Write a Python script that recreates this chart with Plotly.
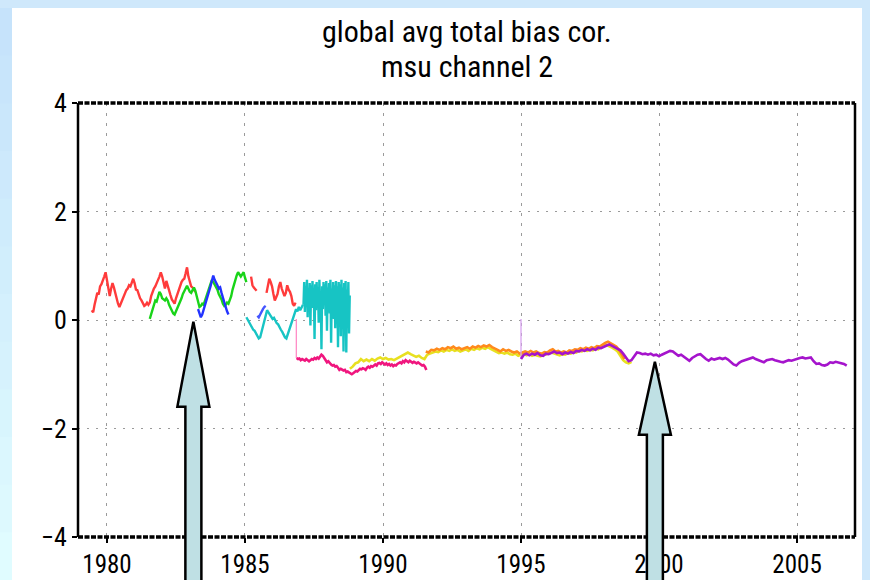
import plotly.graph_objects as go

# ---------------------------------------------------------------------------
# Global average total bias correction, MSU channel 2 (one series per satellite)
# Each series: start year, time step (years), values (K)
# ---------------------------------------------------------------------------
red_a_start, red_a_step = 1979.45, 0.05
red_a = [0.18, 0.14, 0.28, 0.40, 0.50, 0.47, 0.62, 0.66, 0.72, 0.80,
         0.88, 0.74, 0.58, 0.44, 0.58, 0.68, 0.60, 0.48, 0.40, 0.30,
         0.24, 0.30, 0.35, 0.42, 0.50, 0.55, 0.58, 0.64, 0.62, 0.70,
         0.76, 0.68, 0.56, 0.55, 0.46, 0.40, 0.36, 0.30, 0.26, 0.28,
         0.32, 0.28, 0.32, 0.44, 0.52, 0.58, 0.62, 0.70, 0.74, 0.80,
         0.88, 0.80, 0.66, 0.58, 0.72, 0.62, 0.52, 0.46, 0.38, 0.34,
         0.30, 0.40, 0.48, 0.58, 0.66, 0.70, 0.74, 0.76, 0.86, 0.97,
         0.80, 0.68, 0.62, 0.60, 0.56, 0.52]

green_start, green_step = 1981.55, 0.05
green = [0.02, 0.10, 0.22, 0.30, 0.36, 0.34, 0.42, 0.52, 0.48, 0.40,
         0.38, 0.36, 0.40, 0.36, 0.28, 0.22, 0.16, 0.12, 0.10, 0.16,
         0.20, 0.28, 0.34, 0.40, 0.48, 0.52, 0.58, 0.63, 0.56, 0.52,
         0.50, 0.56, 0.60, 0.54, 0.44, 0.36, 0.24, 0.26, 0.30, 0.28,
         0.36, 0.44, 0.52, 0.60, 0.66, 0.74, 0.70, 0.66, 0.62, 0.56,
         0.48, 0.44, 0.38, 0.30, 0.26, 0.28, 0.32, 0.30, 0.36, 0.44,
         0.56, 0.66, 0.74, 0.82, 0.88, 0.84, 0.80, 0.84, 0.88, 0.78,
         0.70]

blue_a_start, blue_a_step = 1983.30, 0.05
blue_a = [0.20, 0.12, 0.05, 0.10, 0.18, 0.26, 0.34, 0.42, 0.51, 0.62,
          0.72, 0.82, 0.74, 0.70, 0.64, 0.58, 0.60, 0.50, 0.40, 0.33,
          0.24, 0.16, 0.10]

blue_b_start, blue_b_step = 1985.45, 0.05
blue_b = [0.08, 0.05, 0.10, 0.16, 0.20, 0.24, 0.26]

red_b_start, red_b_step = 1985.22, 0.05
red_b = [0.80, 0.64, 0.60, 0.56, 0.54]

red_c_start, red_c_step = 1985.78, 0.05
red_c = [0.50, 0.66, 0.76, 0.70, 0.62, 0.48, 0.36, 0.42, 0.48, 0.62,
         0.70, 0.58, 0.52, 0.44, 0.50, 0.64, 0.56, 0.52, 0.44, 0.30,
         0.26, 0.32]

cyan_a_start, cyan_a_step = 1985.05, 0.05
cyan_a = [0.05, 0.00, -0.04, -0.10, -0.14, -0.18, -0.20, -0.24, -0.28, -0.34,
          -0.32, -0.22, -0.10, 0.02, 0.10, 0.18, 0.14, 0.10, 0.06, 0.02,
          0.04, -0.02, -0.06, -0.08, -0.14, -0.18, -0.22, -0.28, -0.32, -0.34,
          -0.26, -0.18, -0.10, -0.02, 0.06, 0.14, 0.20, 0.16, 0.24, 0.18,
          0.22, 0.28]

cyan_b_start, cyan_b_step = 1987.12, 0.025
cyan_b = [0.28, 0.70, 0.15, 0.62, 0.35, 0.74, 0.05, 0.58, 0.30, 0.68,
          -0.10, 0.64, 0.22, 0.72, 0.40, 0.55, -0.35, 0.66, 0.18, 0.70,
          0.32, 0.60, -0.05, 0.74, 0.25, 0.50, -0.54, 0.62, 0.20, 0.70,
          0.38, 0.66, 0.08, 0.72, -0.20, 0.60, 0.30, 0.68, 0.12, 0.74,
          -0.42, 0.58, 0.26, 0.70, 0.02, 0.64, -0.15, 0.72, 0.34, 0.62,
          -0.50, 0.70, 0.10, 0.66, -0.30, 0.74, 0.20, 0.60, -0.58, 0.68,
          0.05, 0.72, -0.60, 0.56, 0.16, 0.70, -0.25, 0.45]

pink_start, pink_step = 1986.87, 0.05
pink = [-0.70, -0.72, -0.71, -0.74, -0.72, -0.73, -0.75, -0.72, -0.74, -0.76,
        -0.74, -0.72, -0.73, -0.70, -0.72, -0.69, -0.71, -0.68, -0.64, -0.66,
        -0.70, -0.76, -0.78, -0.76, -0.80, -0.82, -0.84, -0.83, -0.86, -0.85,
        -0.88, -0.92, -0.90, -0.91, -0.93, -0.92, -0.96, -0.95, -0.97, -0.99,
        -1.00, -0.98, -0.96, -0.94, -0.95, -0.92, -0.90, -0.91, -0.89, -0.90,
        -0.92, -0.88, -0.86, -0.88, -0.85, -0.86, -0.84, -0.82, -0.84, -0.80,
        -0.79, -0.81, -0.78, -0.80, -0.82, -0.80, -0.83, -0.81, -0.84, -0.82,
        -0.85, -0.83, -0.84, -0.81, -0.80, -0.78, -0.80, -0.76, -0.78, -0.74,
        -0.76, -0.78, -0.75, -0.77, -0.79, -0.77, -0.78, -0.80, -0.78, -0.81,
        -0.82, -0.84, -0.83, -0.86, -0.92]

yellow_start, yellow_step = 1988.80, 0.10
yellow = [-0.90, -0.86, -0.80, -0.78, -0.72, -0.76, -0.73, -0.76, -0.72, -0.75,
          -0.71, -0.69, -0.72, -0.70, -0.73, -0.72, -0.74, -0.71, -0.68, -0.66,
          -0.63, -0.60, -0.63, -0.66, -0.68, -0.66, -0.70, -0.72, -0.64, -0.62,
          -0.60, -0.58, -0.59, -0.56, -0.58, -0.55, -0.57, -0.54, -0.57, -0.55,
          -0.58, -0.56, -0.54, -0.57, -0.53, -0.55, -0.52, -0.54, -0.51, -0.53,
          -0.50, -0.53, -0.56, -0.58, -0.61, -0.60, -0.62, -0.60, -0.63, -0.64,
          -0.62, -0.66, -0.64, -0.62, -0.65, -0.63, -0.66, -0.64, -0.66, -0.67,
          -0.65, -0.64, -0.62, -0.60, -0.62, -0.63, -0.65, -0.63, -0.64, -0.61,
          -0.62, -0.59, -0.60, -0.57, -0.58, -0.56, -0.57, -0.55, -0.56, -0.53,
          -0.54, -0.50, -0.47, -0.46, -0.48, -0.51, -0.54, -0.58, -0.66, -0.74,
          -0.78, -0.80, -0.77]

orange_start, orange_step = 1991.55, 0.10
orange = [-0.58, -0.60, -0.55, -0.56, -0.53, -0.55, -0.52, -0.54, -0.50, -0.52,
          -0.49, -0.53, -0.51, -0.54, -0.52, -0.50, -0.53, -0.49, -0.51, -0.48,
          -0.50, -0.47, -0.49, -0.46, -0.50, -0.52, -0.55, -0.58, -0.54, -0.57,
          -0.55, -0.58, -0.60, -0.58, -0.62, -0.60, -0.58, -0.60, -0.57, -0.60,
          -0.58, -0.61, -0.62, -0.59, -0.60, -0.56, -0.54, -0.58, -0.57, -0.60,
          -0.58, -0.60, -0.56, -0.57, -0.54, -0.55, -0.52, -0.54, -0.51, -0.53,
          -0.50, -0.52, -0.48, -0.49, -0.45, -0.42, -0.40, -0.43, -0.46, -0.49,
          -0.55, -0.64, -0.72]

purple_start, purple_step = 1995.00, 0.10
purple = [-0.72, -0.64, -0.62, -0.65, -0.62, -0.64, -0.61, -0.65, -0.66, -0.62,
          -0.63, -0.60, -0.58, -0.61, -0.60, -0.63, -0.60, -0.62, -0.59, -0.61,
          -0.57, -0.58, -0.55, -0.57, -0.54, -0.56, -0.53, -0.55, -0.51, -0.52,
          -0.49, -0.47, -0.45, -0.48, -0.50, -0.53, -0.56, -0.62, -0.70, -0.76,
          -0.74, -0.66, -0.60, -0.61, -0.63, -0.62, -0.64, -0.62, -0.65, -0.64,
          -0.67, -0.64, -0.62, -0.60, -0.57, -0.58, -0.62, -0.66, -0.64, -0.68,
          -0.71, -0.75, -0.70, -0.67, -0.64, -0.63, -0.68, -0.72, -0.75, -0.71,
          -0.73, -0.72, -0.70, -0.72, -0.70, -0.73, -0.78, -0.82, -0.84, -0.79,
          -0.76, -0.74, -0.72, -0.70, -0.69, -0.72, -0.74, -0.77, -0.78, -0.74,
          -0.73, -0.72, -0.74, -0.76, -0.77, -0.78, -0.76, -0.74, -0.75, -0.73,
          -0.72, -0.70, -0.69, -0.71, -0.70, -0.69, -0.76, -0.81, -0.80, -0.83,
          -0.84, -0.82, -0.78, -0.79, -0.77, -0.78, -0.80, -0.81, -0.84]

# jumps where a new satellite record begins (year, start value, end value)
pink_jump = (1986.86, 0.02, -0.70)
purple_jump = (1995.00, 0.02, -0.72)

x_ticks = [1980, 1985, 1990, 1995, 2000, 2005]
y_ticks = [-4, -2, 0, 2, 4]
y_tick_text = ["\u22124", "\u22122", "0", "2", "4"]
x_range = [1978.95, 2007.1]
y_range = [-4, 4]

title_lines = ["global avg total bias cor.", "msu channel 2"]

# arrow tips (year, value, head length in px)
arrow_tips = [(1983.13, -0.03, 85), (1999.85, -0.77, 73)]

# ---------------------------------------------------------------------------
W, H = 870, 580
ML, MR, MT, MB = 78, 15, 103, 43
PW, PH = W - ML - MR, H - MT - MB
FONT = "Roboto Condensed, DejaVu Sans Condensed, sans-serif"


def years(start, step, n):
    return [round(start + i * step, 4) for i in range(n)]


def px_x(px):
    return (px - ML) / PW


def px_y(py):
    return (H - MB - py) / PH


fig = go.Figure()

series = [
    (red_a_start, red_a_step, red_a, "#ff3b3b"),
    (red_b_start, red_b_step, red_b, "#ff3b3b"),
    (red_c_start, red_c_step, red_c, "#ff3b3b"),
    (green_start, green_step, green, "#19d419"),
    (blue_a_start, blue_a_step, blue_a, "#2233ff"),
    (blue_b_start, blue_b_step, blue_b, "#4455ff"),
    (cyan_a_start, cyan_a_step, cyan_a, "#17c4c4"),
    (cyan_b_start, cyan_b_step, cyan_b, "#17c4c4"),
]
for start, step, vals, col in series:
    fig.add_trace(go.Scatter(x=years(start, step, len(vals)), y=vals, mode="lines",
                             line=dict(color=col, width=2.4), hoverinfo="skip"))

fig.add_trace(go.Scatter(x=[pink_jump[0]] * 2, y=list(pink_jump[1:]), mode="lines",
                         line=dict(color="#ff8cc6", width=1.3), hoverinfo="skip"))
for start, step, vals, col in [
    (pink_start, pink_step, pink, "#f0167e"),
    (yellow_start, yellow_step, yellow, "#e8e020"),
    (orange_start, orange_step, orange, "#ff8a1c"),
]:
    fig.add_trace(go.Scatter(x=years(start, step, len(vals)), y=vals, mode="lines",
                             line=dict(color=col, width=2.6), hoverinfo="skip"))
fig.add_trace(go.Scatter(x=[purple_jump[0]] * 2, y=list(purple_jump[1:]), mode="lines",
                         line=dict(color="#d8a2f0", width=1.3), hoverinfo="skip"))
fig.add_trace(go.Scatter(x=years(purple_start, purple_step, len(purple)), y=purple,
                         mode="lines", line=dict(color="#a514cc", width=2.6),
                         hoverinfo="skip"))

shapes = []
# slide background: white panel over the light-blue page, graded left strip
shapes.append(dict(type="rect", xref="paper", yref="paper", layer="below",
                   x0=px_x(12), x1=px_x(862), y0=px_y(H + 5), y1=px_y(8),
                   fillcolor="white", line=dict(width=0)))
nb = 12
for i in range(nb):
    t = i / (nb - 1)
    r = int(0xc6 + (0xe0 - 0xc6) * t)
    g = int(0xe3 + (0xfc - 0xe3) * t)
    b = int(0xfb + (0xff - 0xfb) * t)
    shapes.append(dict(type="rect", xref="paper", yref="paper", layer="below",
                       x0=px_x(-2), x1=px_x(12),
                       y0=px_y(8 + (H - 8) * (i + 1) / nb + 1),
                       y1=px_y(8 + (H - 8) * i / nb),
                       fillcolor=f"rgb({r},{g},{b})", line=dict(width=0)))

# plot frame: solid sides, heavy dashed top and bottom
for x in (0, 1):
    shapes.append(dict(type="line", xref="paper", yref="paper", x0=x, x1=x, y0=0, y1=1,
                       line=dict(color="black", width=2.5), layer="above"))
for y in (0, 1):
    shapes.append(dict(type="line", xref="paper", yref="paper", x0=0, x1=1, y0=y, y1=y,
                       line=dict(color="black", width=3.5, dash="5px,1.5px"), layer="above"))

# arrows
for yr, val, head_len in arrow_tips:
    tx = (yr - x_range[0]) / (x_range[1] - x_range[0])
    ty = (val - y_range[0]) / (y_range[1] - y_range[0])
    tip_px = ML + tx * PW
    tip_py = H - MB - ty * PH
    hw, sw = 16, 8
    base = tip_py + head_len
    bottom = H + 10
    pts = [(tip_px, tip_py), (tip_px + hw, base), (tip_px + sw, base),
           (tip_px + sw, bottom), (tip_px - sw, bottom), (tip_px - sw, base),
           (tip_px - hw, base)]
    path = "M " + " L ".join(f"{px_x(a):.5f},{px_y(b):.5f}" for a, b in pts) + " Z"
    shapes.append(dict(type="path", xref="paper", yref="paper", path=path,
                       fillcolor="#bfe0e4", line=dict(color="black", width=2.5),
                       layer="above"))

annotations = []
for i, line in enumerate(title_lines):
    annotations.append(dict(text=line, xref="paper", yref="paper", x=0.5,
                            y=px_y(31 + 36 * i), xanchor="center", yanchor="middle",
                            showarrow=False,
                            font=dict(family=FONT, size=30, color="black")))

fig.update_layout(
    width=W, height=H,
    margin=dict(l=ML, r=MR, t=MT, b=MB, pad=0),
    paper_bgcolor="#cfe8fb",
    plot_bgcolor="white",
    showlegend=False,
    shapes=shapes,
    annotations=annotations,
    xaxis=dict(range=x_range, tickvals=x_ticks, ticks="outside", ticklen=5,
               tickcolor="black", tickwidth=1.5, showline=False, zeroline=False,
               automargin=False, ticklabelstandoff=0,
               showgrid=True, gridcolor="#9a9a9a", gridwidth=1, griddash="3px,7px",
               tickfont=dict(family=FONT, size=25, color="black")),
    yaxis=dict(range=y_range, tickvals=y_ticks, ticktext=y_tick_text, ticks="outside",
               ticklen=5, tickcolor="black", tickwidth=1.5, showline=False,
               automargin=False,
               zeroline=False, showgrid=True, gridcolor="#9a9a9a", gridwidth=1,
               griddash="2px,7px",
               tickfont=dict(family=FONT, size=26, color="black")),
)

fig.write_html("out.html")
